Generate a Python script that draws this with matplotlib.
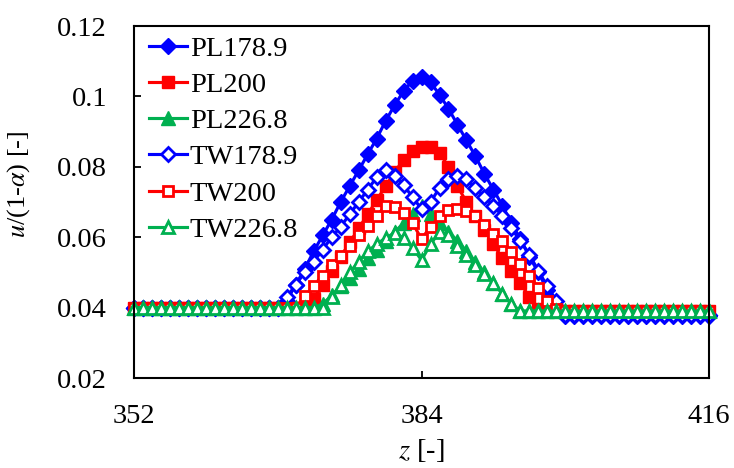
import matplotlib
matplotlib.use("Agg")
from matplotlib import pyplot as plt

plt.rcParams["font.family"] = ["Liberation Serif", "DejaVu Serif"]
plt.rcParams["mathtext.fontset"] = "stix"

# lattice nodes along the axis
z = list(range(352, 417))

pl_1789 = [0.040, 0.040, 0.040, 0.040, 0.040, 0.040, 0.040, 0.040, 0.040, 0.040,
           0.040, 0.040, 0.040, 0.040, 0.040, 0.040, 0.040,
           0.042, 0.0465, 0.051, 0.056, 0.0605, 0.065, 0.070, 0.0745, 0.079, 0.0835,
           0.088, 0.093, 0.0975, 0.1015, 0.1045, 0.1055, 0.104, 0.1005, 0.0965, 0.092,
           0.0875, 0.083, 0.078, 0.0735, 0.069, 0.064, 0.0595, 0.0545, 0.050, 0.045,
           0.0405,
           0.0377, 0.0377, 0.0377, 0.0377, 0.0377, 0.0377, 0.0377, 0.0377, 0.0377,
           0.0377, 0.0377, 0.0377, 0.0377, 0.0377, 0.0377, 0.0377, 0.0377]
pl_200 = [0.040, 0.040, 0.040, 0.040, 0.040, 0.040, 0.040, 0.040, 0.040, 0.040,
          0.040, 0.040, 0.040, 0.040, 0.040, 0.040, 0.040, 0.040, 0.040, 0.040,
          0.0425, 0.0465, 0.0505, 0.0545, 0.0585, 0.0625, 0.0665, 0.0705, 0.0745,
          0.0785, 0.082, 0.0845, 0.0855, 0.0855, 0.084, 0.080, 0.0745, 0.070, 0.066,
          0.062, 0.058, 0.054, 0.0505, 0.047, 0.043, 0.0395,
          0.039, 0.039, 0.039, 0.039, 0.039, 0.039, 0.039, 0.039, 0.039, 0.039,
          0.039, 0.039, 0.039, 0.039, 0.039, 0.039, 0.039, 0.039, 0.039]
pl_2268 = [0.040, 0.040, 0.040, 0.040, 0.040, 0.040, 0.040, 0.040, 0.040, 0.040,
           0.040, 0.040, 0.040, 0.040, 0.040, 0.040, 0.040, 0.040, 0.040, 0.040, 0.040,
           0.041, 0.0435, 0.046, 0.0485, 0.051, 0.054, 0.0565, 0.059, 0.0615, 0.064,
           0.0665, 0.069, 0.0665, 0.064, 0.0615, 0.059, 0.056, 0.053, 0.050, 0.047,
           0.044, 0.041,
           0.039, 0.039, 0.039, 0.039, 0.039, 0.039, 0.039, 0.039, 0.039, 0.039, 0.039,
           0.039, 0.039, 0.039, 0.039, 0.039, 0.039, 0.039, 0.039, 0.039, 0.039, 0.039]
tw_1789 = [0.040, 0.040, 0.040, 0.040, 0.040, 0.040, 0.040, 0.040, 0.040, 0.040,
           0.040, 0.040, 0.040, 0.040, 0.040, 0.040, 0.040,
           0.043, 0.0465, 0.050, 0.053, 0.0565, 0.060, 0.063, 0.0665, 0.070, 0.0735,
           0.077, 0.079, 0.0775, 0.0748, 0.0714, 0.068, 0.070, 0.074, 0.0765, 0.0775,
           0.0765, 0.074, 0.0715, 0.069, 0.066, 0.0625, 0.059, 0.055, 0.0505, 0.046,
           0.042,
           0.038, 0.038, 0.038, 0.038, 0.038, 0.038, 0.038, 0.038, 0.038, 0.038,
           0.038, 0.038, 0.038, 0.038, 0.038, 0.038, 0.038]
tw_200 = [0.040, 0.040, 0.040, 0.040, 0.040, 0.040, 0.040, 0.040, 0.040, 0.040,
          0.040, 0.040, 0.040, 0.040, 0.040, 0.040, 0.040, 0.040, 0.040,
          0.0433, 0.046, 0.049, 0.052, 0.0547, 0.0575, 0.0605, 0.0633, 0.066, 0.069,
          0.0685, 0.0668, 0.064, 0.0595, 0.063, 0.066, 0.0678, 0.068, 0.0675, 0.066,
          0.0635, 0.061, 0.059, 0.0558, 0.0525, 0.049, 0.0455, 0.042, 0.0395,
          0.039, 0.039, 0.039, 0.039, 0.039, 0.039, 0.039, 0.039, 0.039, 0.039,
          0.039, 0.039, 0.039, 0.039, 0.039, 0.039, 0.039]
tw_2268 = [0.040, 0.040, 0.040, 0.040, 0.040, 0.040, 0.040, 0.040, 0.040, 0.040,
           0.040, 0.040, 0.040, 0.040, 0.040, 0.040, 0.040, 0.040, 0.040, 0.040, 0.040,
           0.040, 0.043, 0.0465, 0.050, 0.053, 0.056, 0.058, 0.0598, 0.0612, 0.0598,
           0.057, 0.0535, 0.058, 0.0615, 0.0605, 0.0575, 0.055, 0.052, 0.0495, 0.047,
           0.044, 0.041,
           0.039, 0.039, 0.039, 0.039, 0.039, 0.039, 0.039, 0.039, 0.039, 0.039, 0.039,
           0.039, 0.039, 0.039, 0.039, 0.039, 0.039, 0.039, 0.039, 0.039, 0.039, 0.039]

BLUE = "#0000ff"
RED = "#ff0000"
GREEN = "#00b050"

# name, values, colour, marker, filled, marker size
series = [
    ("PL178.9", pl_1789, BLUE, "D", True, 8.0),
    ("PL200", pl_200, RED, "s", True, 8.6),
    ("PL226.8", pl_2268, GREEN, "^", True, 10.0),
    ("TW178.9", tw_1789, BLUE, "D", False, 7.0),
    ("TW200", tw_200, RED, "s", False, 7.4),
    ("TW226.8", tw_2268, GREEN, "^", False, 9.2),
]

fig = plt.figure(figsize=(7.34, 4.68), dpi=100)
ax = fig.add_axes([0.1826, 0.1923, 0.7834, 0.7521])

for name, vals, col, mk, filled, ms in series:
    ax.plot(z, vals, color=col, linewidth=2.25, marker=mk, markersize=ms,
            markerfacecolor=col if filled else "white",
            markeredgecolor=col, markeredgewidth=1.0 if filled else 2.0,
            label=name, clip_on=False)

ax.set_xlim(352, 416)
ax.set_ylim(0.02, 0.12)
ax.set_xticks([352, 384, 416])
ax.set_yticks([0.02, 0.04, 0.06, 0.08, 0.1, 0.12])
ax.set_yticklabels(["0.02", "0.04", "0.06", "0.08", "0.1", "0.12"])

for sp in ax.spines.values():
    sp.set_linewidth(1.5)
ax.tick_params(axis="both", direction="in", length=5, width=1.3, labelsize=20.5)
ax.tick_params(axis="y", pad=19.5)
ax.tick_params(axis="x", pad=18.5)

ax.set_xlabel(r"$z$ [-]", fontsize=20.5, labelpad=6)
ax.set_ylabel(r"$u$/(1-$\alpha$) [-]", fontsize=19)
ax.yaxis.set_label_coords(-0.178, 0.55)

ax.legend(loc="upper left", bbox_to_anchor=(0.008, 1.0), frameon=False, fontsize=20.5,
          handlelength=1.35, handletextpad=0.1, labelspacing=0.36,
          borderaxespad=0.2, borderpad=0.15)

fig.savefig("out.png", dpi=100)
